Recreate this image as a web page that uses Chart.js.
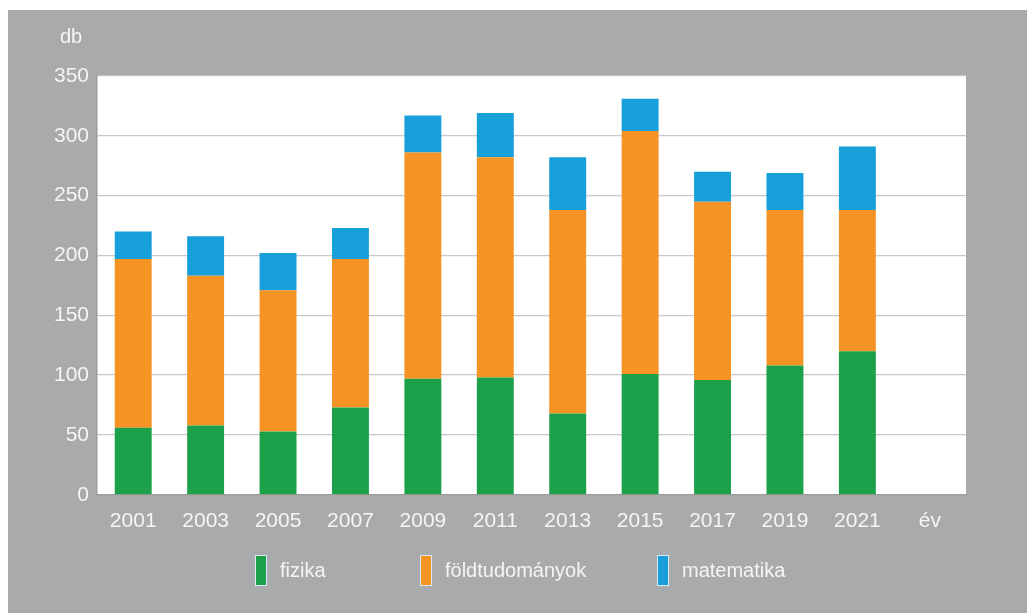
<!DOCTYPE html>
<html>
<head>
<meta charset="utf-8">
<script src="https://cdn.jsdelivr.net/npm/chart.js@4.4.1/dist/chart.umd.min.js"></script>
<style>
  body { margin: 0; background: #fff; }
  #panel { position: absolute; left: 8px; top: 10px; width: 1019px; height: 603px; background: #a9aaac; }
  #chartBox { position: absolute; left: 0; top: 0; width: 1019px; height: 603px; }
  #legend { position: absolute; left: 247px; top: 545px; display: flex;
            font-family: "Liberation Sans", Arial, sans-serif; font-size: 20px; color: #f5f5f5; }
  .item { display: flex; align-items: center; height: 31px; }
  .item:nth-child(1) { width: 165px; }
  .item:nth-child(2) { width: 237px; }
  .swatch { width: 12px; height: 31px; margin-right: 13px; box-sizing: border-box; border: 1px solid #d9ecf5; }
</style>
</head>
<body>
<div id="panel">
  <div id="chartBox"><canvas id="myChart"></canvas></div>
  <div id="legend"></div>
</div>
<script>
// data
const years = ['2001', '2003', '2005', '2007', '2009', '2011', '2013', '2015', '2017', '2019', '2021', 'év'];
const fizika = [56, 58, 53, 73, 97, 98, 68, 101, 96, 108, 120];
const foldtudomanyok = [141, 125, 118, 124, 189, 184, 170, 203, 149, 130, 118];
const matematika = [23, 33, 31, 26, 31, 37, 44, 27, 25, 31, 53];
const yTicks = [0, 50, 100, 150, 200, 250, 300, 350];

const seriesNames = ['fizika', 'földtudományok', 'matematika'];
const seriesColors = ['#1da04a', '#f59425', '#179fda'];
const seriesData = [fizika, foldtudomanyok, matematika];

const textColor = '#f5f5f5';
Chart.defaults.font.family = "'Liberation Sans', Arial, sans-serif";
Chart.defaults.font.size = 21;
Chart.defaults.color = textColor;

// white plot area + "db" unit label
const plotBg = {
    id: 'plotBg',
    beforeDraw(chart) {
        const {ctx, chartArea: a} = chart;
        ctx.save();
        ctx.fillStyle = '#ffffff';
        ctx.fillRect(a.left, a.top, a.right - a.left, a.bottom - a.top);
        ctx.restore();
    },
    afterDraw(chart) {
        const {ctx, chartArea: a} = chart;
        ctx.save();
        ctx.fillStyle = textColor;
        ctx.font = "20px 'Liberation Sans', Arial, sans-serif";
        ctx.textBaseline = 'alphabetic';
        ctx.fillText('db', a.left - 37, a.top - 33);
        ctx.restore();
    }
};

const ctx = document.getElementById('myChart');
new Chart(ctx, {
    type: 'bar',
    data: {
        labels: years,
        datasets: seriesNames.map((name, i) => ({
            label: name,
            data: seriesData[i],
            backgroundColor: seriesColors[i],
            borderWidth: 0,
            barPercentage: 0.51,
            categoryPercentage: 1
        }))
    },
    options: {
        responsive: true,
        maintainAspectRatio: false,
        animation: false,
        layout: { padding: { left: 0, right: 61, top: 66, bottom: 65 } },
        plugins: {
            legend: { display: false },
            tooltip: { enabled: false }
        },
        scales: {
            x: {
                stacked: true,
                grid: { display: false, drawTicks: false },
                border: { display: true, color: '#9c9c9c', width: 1.5 },
                ticks: { padding: 14, maxRotation: 0, autoSkip: false }
            },
            y: {
                stacked: true,
                min: yTicks[0],
                max: yTicks[yTicks.length - 1],
                afterFit: (scale) => { scale.width = 89; },
                afterBuildTicks: (scale) => { scale.ticks = yTicks.map(v => ({ value: v })); },
                grid: { color: '#c8c8c8', lineWidth: 1.3, drawTicks: false },
                border: { display: true, color: '#9c9c9c', width: 1.5 },
                ticks: { padding: 8 }
            }
        }
    },
    plugins: [plotBg]
});

// legend built from the same series arrays
const legendBox = document.getElementById('legend');
seriesNames.forEach((name, i) => {
    const item = document.createElement('div');
    item.className = 'item';
    const sw = document.createElement('span');
    sw.className = 'swatch';
    sw.style.background = seriesColors[i];
    const txt = document.createElement('span');
    txt.textContent = name;
    item.appendChild(sw);
    item.appendChild(txt);
    legendBox.appendChild(item);
});
</script>
</body>
</html>
